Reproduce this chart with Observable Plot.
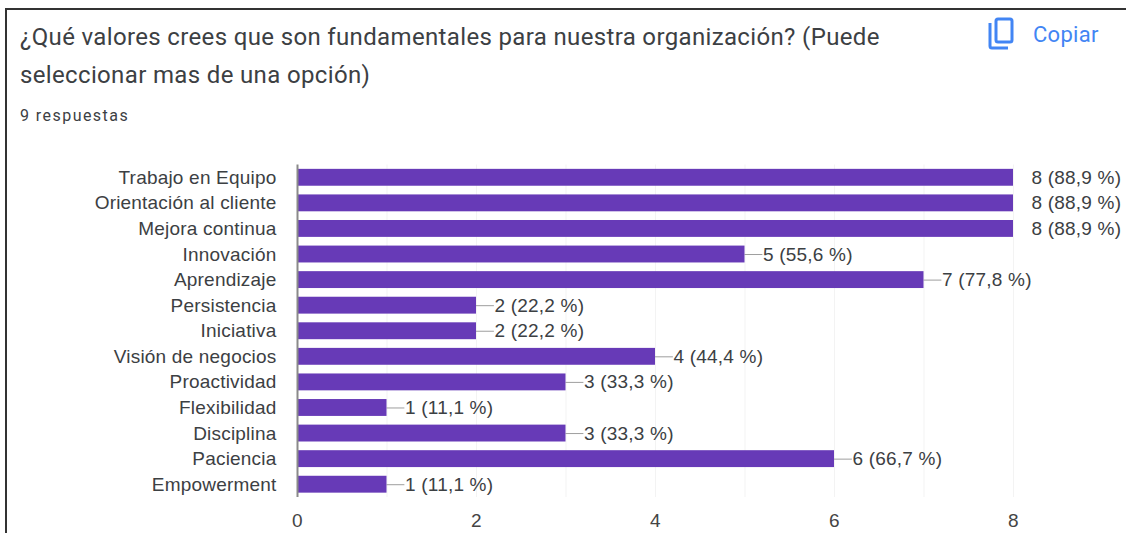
<!DOCTYPE html>
<html lang="es">
<head>
<meta charset="utf-8">
<script src="https://cdn.jsdelivr.net/npm/d3@7"></script>
<script src="https://cdn.jsdelivr.net/npm/@observablehq/plot@0.6"></script>
<style>
html,body{margin:0;padding:0;background:#fff;overflow:hidden}
#page{position:relative;width:1126px;height:533px;overflow:hidden}
#frame{position:absolute;left:5px;top:8px;width:1200px;height:600px;border:2px solid #333;box-sizing:border-box}
.t{position:absolute;font-family:Roboto,sans-serif;white-space:nowrap}
#title1{left:20px;top:23px;font-size:24px;line-height:28px;color:#3c4043;letter-spacing:.35px}
#title2{left:20px;top:61px;font-size:24px;line-height:28px;color:#3c4043;letter-spacing:.35px}
#sub{left:20px;top:106px;font-size:16px;line-height:20px;color:#3c4043;letter-spacing:1.45px}
#copy{left:1033px;top:22px;font-size:22px;line-height:26px;color:#4285f4;letter-spacing:.3px}
#icon{position:absolute;left:985px;top:16px}
#chart{position:absolute;left:0;top:0}
svg text{font-family:"Liberation Sans",Arial,sans-serif;letter-spacing:.2px}
</style>
</head>
<body>
<div id="page">
<div id="chart"></div>
<div id="frame"></div>
<div class="t" id="title1">¿Qué valores crees que son fundamentales para nuestra organización? (Puede</div>
<div class="t" id="title2">seleccionar mas de una opción)</div>
<div class="t" id="sub">9 respuestas</div>
<svg id="icon" width="32" height="36" viewBox="0 0 32 36" fill="none" stroke="#4285f4" stroke-width="3">
<path d="M5 7 V30 Q5 32 7 32 H23"/>
<rect x="11" y="3" width="16" height="23" rx="2"/>
</svg>
<div class="t" id="copy">Copiar</div>
</div>
<script>
const categories = ["Trabajo en Equipo","Orientación al cliente","Mejora continua","Innovación","Aprendizaje","Persistencia","Iniciativa","Visión de negocios","Proactividad","Flexibilidad","Disciplina","Paciencia","Empowerment"];
const counts = [8,8,8,5,7,2,2,4,3,1,3,6,1];
const percents = ["88,9","88,9","88,9","55,6","77,8","22,2","22,2","44,4","33,3","11,1","33,3","66,7","11,1"];
const xTicks = [0,2,4,6,8];
const gridTicks = [1,2,3,4,5,6,7,8];
const purple = "#673ab7";
const rows = categories.map((c,i)=>({c, n:counts[i], label:`${counts[i]} (${percents[i]} %)`}));
const chart = Plot.plot({
  width:1126, height:533,
  marginLeft:297, marginRight:113, marginTop:164.5, marginBottom:36,
  style:{background:"transparent"},
  x:{domain:[0,8], ticks:xTicks, label:null},
  y:{domain:categories, label:null, round:false, paddingInner:0.34, paddingOuter:0.17},
  marks:[
    Plot.ruleX(gridTicks,{stroke:"#f3f3f3"}),
    Plot.ruleY(rows.filter(d=>d.n<8),{y:"c", x1:"n", x2:d=>d.n+0.2, stroke:"#9e9e9e"}),
    Plot.barX(rows,{y:"c", x:"n", fill:purple}),
    Plot.ruleX([0],{stroke:"#8a8a8a", strokeWidth:2}),
    Plot.text(rows,{y:"c", x:"n", text:"label", textAnchor:"start", dx:18, fontSize:19, fill:"#3c4043"}),
    Plot.axisX({ticks:xTicks, tickSize:0, tickPadding:16, fontSize:19, color:"#444", label:null}),
    Plot.axisY({tickSize:0, tickPadding:21, fontSize:19, color:"#3c4043", label:null})
  ]
});
document.getElementById("chart").append(chart);
</script>
</body>
</html>
